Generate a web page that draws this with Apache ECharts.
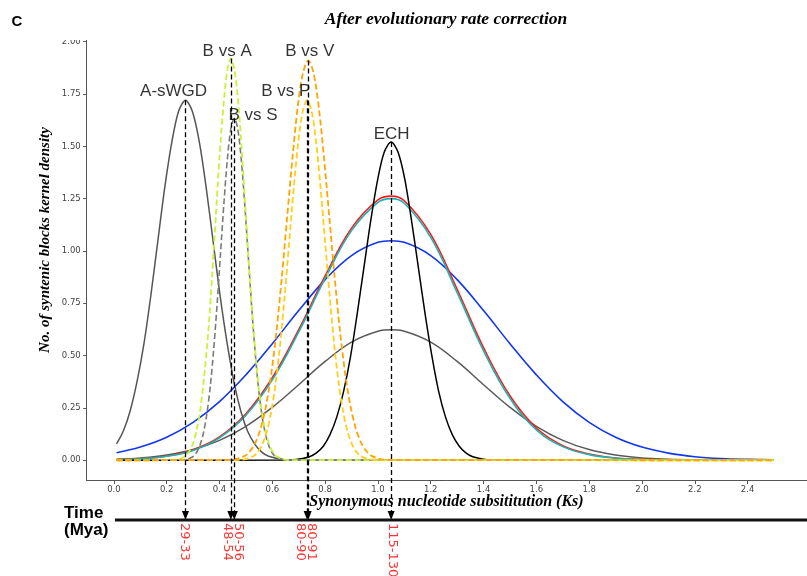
<!DOCTYPE html>
<html><head><meta charset="utf-8">
<script src="https://cdn.jsdelivr.net/npm/echarts@6/dist/echarts.min.js"></script>
<style>html,body{margin:0;padding:0;background:#fff}#chart{width:807px;height:576px}</style>
</head><body><div id="chart"></div>
<script>
// ---------- data ----------
const ksTicks = [0, 0.2, 0.4, 0.6, 0.8, 1.0, 1.2, 1.4, 1.6, 1.8, 2.0, 2.2, 2.4];
const densityTicks = [0, 0.25, 0.5, 0.75, 1.0, 1.25, 1.5, 1.75, 2.0];

const aSWGD = [[0.01,0.078],[0.035,0.137],[0.061,0.233],[0.087,0.372],[0.114,0.558],[0.14,0.788],[0.166,1.043],[0.192,1.298],[0.219,1.518],[0.245,1.667],[0.271,1.72],[0.297,1.667],[0.324,1.518],[0.35,1.298],[0.376,1.043],[0.402,0.788],[0.429,0.558],[0.455,0.372],[0.481,0.233],[0.507,0.137],[0.534,0.076],[0.56,0.039],[0.586,0.019],[0.639,0.004],[0.691,0.001],[0.8,0],[2.5,0]];
const bVsA = [[0.01,0],[0.215,0.001],[0.244,0.004],[0.272,0.021],[0.286,0.044],[0.301,0.084],[0.315,0.153],[0.329,0.26],[0.343,0.415],[0.358,0.623],[0.372,0.879],[0.386,1.165],[0.4,1.449],[0.415,1.694],[0.429,1.861],[0.443,1.92],[0.457,1.861],[0.472,1.694],[0.486,1.449],[0.5,1.165],[0.514,0.879],[0.529,0.623],[0.543,0.415],[0.557,0.26],[0.571,0.153],[0.586,0.084],[0.6,0.044],[0.614,0.021],[0.643,0.004],[0.671,0.001],[2.5,0]];
const bVsS = [[0.01,0],[0.248,0.001],[0.274,0.004],[0.3,0.018],[0.313,0.037],[0.326,0.072],[0.339,0.13],[0.352,0.221],[0.365,0.353],[0.378,0.531],[0.391,0.748],[0.404,0.991],[0.417,1.233],[0.43,1.442],[0.443,1.584],[0.456,1.634],[0.469,1.584],[0.482,1.442],[0.495,1.233],[0.508,0.991],[0.521,0.748],[0.534,0.531],[0.547,0.353],[0.56,0.221],[0.573,0.13],[0.586,0.072],[0.599,0.037],[0.612,0.018],[0.638,0.004],[0.664,0.001],[2.5,0]];
const bVsV = [[0.01,0],[0.416,0.001],[0.456,0.004],[0.496,0.021],[0.516,0.044],[0.536,0.084],[0.556,0.152],[0.576,0.259],[0.596,0.413],[0.616,0.62],[0.636,0.875],[0.656,1.159],[0.676,1.442],[0.696,1.686],[0.716,1.851],[0.736,1.91],[0.756,1.851],[0.776,1.686],[0.796,1.442],[0.816,1.159],[0.836,0.875],[0.856,0.62],[0.876,0.413],[0.896,0.259],[0.916,0.152],[0.936,0.084],[0.956,0.044],[0.976,0.021],[1.016,0.004],[1.056,0.001],[2.5,0]];
const bVsP = [[0.01,0],[0.46,0.001],[0.494,0.004],[0.528,0.019],[0.545,0.039],[0.562,0.076],[0.579,0.137],[0.596,0.233],[0.613,0.372],[0.63,0.558],[0.647,0.788],[0.664,1.043],[0.681,1.298],[0.698,1.518],[0.715,1.667],[0.732,1.72],[0.749,1.667],[0.766,1.518],[0.783,1.298],[0.8,1.043],[0.817,0.788],[0.834,0.558],[0.851,0.372],[0.868,0.233],[0.885,0.137],[0.902,0.076],[0.919,0.039],[0.936,0.019],[0.97,0.004],[1.004,0.001],[2.5,0]];
const ech = [[0.01,0],[0.638,0.001],[0.69,0.003],[0.741,0.017],[0.767,0.035],[0.793,0.067],[0.818,0.121],[0.844,0.206],[0.87,0.329],[0.896,0.494],[0.921,0.696],[0.947,0.922],[0.973,1.147],[0.999,1.341],[1.024,1.473],[1.05,1.52],[1.076,1.473],[1.102,1.341],[1.127,1.147],[1.153,0.922],[1.179,0.696],[1.205,0.494],[1.23,0.329],[1.256,0.206],[1.282,0.121],[1.308,0.067],[1.333,0.035],[1.359,0.017],[1.411,0.003],[1.462,0.001],[2.5,0]];
const redCurve = [[0.01,0.003],[0.1,0.007],[0.2,0.02],[0.3,0.05],[0.4,0.111],[0.5,0.222],[0.6,0.394],[0.7,0.624],[0.8,0.881],[0.9,1.109],[1.0,1.244],[1.05,1.262],[1.1,1.24],[1.2,1.079],[1.3,0.817],[1.4,0.538],[1.5,0.308],[1.6,0.154],[1.7,0.07],[1.8,0.03],[1.9,0.011],[2.0,0.004],[2.1,0.001],[2.2,0],[2.5,0]];
const cyanCurve = [[0.01,0.002],[0.1,0.007],[0.2,0.019],[0.3,0.047],[0.4,0.107],[0.5,0.215],[0.6,0.384],[0.7,0.613],[0.8,0.869],[0.9,1.097],[1.0,1.232],[1.05,1.25],[1.1,1.228],[1.2,1.065],[1.3,0.801],[1.4,0.523],[1.5,0.296],[1.6,0.145],[1.7,0.065],[1.8,0.027],[1.9,0.01],[2.0,0.003],[2.1,0.001],[2.2,0],[2.5,0]];
const grayBroad = [[0.01,0.005],[0.1,0.011],[0.2,0.025],[0.3,0.051],[0.4,0.095],[0.5,0.162],[0.6,0.253],[0.7,0.361],[0.8,0.472],[0.9,0.564],[1.0,0.616],[1.05,0.623],[1.1,0.616],[1.2,0.564],[1.3,0.472],[1.4,0.361],[1.5,0.253],[1.6,0.162],[1.7,0.095],[1.8,0.051],[1.9,0.025],[2.0,0.011],[2.1,0.005],[2.2,0.002],[2.3,0.001],[2.5,0]];
const blueCurve = [[0.01,0.036],[0.1,0.063],[0.2,0.11],[0.3,0.181],[0.4,0.28],[0.5,0.408],[0.6,0.557],[0.7,0.715],[0.8,0.863],[0.9,0.978],[1.0,1.041],[1.05,1.049],[1.1,1.041],[1.2,0.978],[1.3,0.863],[1.4,0.715],[1.5,0.557],[1.6,0.408],[1.7,0.28],[1.8,0.181],[1.9,0.11],[2.0,0.063],[2.1,0.034],[2.2,0.017],[2.3,0.008],[2.4,0.004],[2.5,0.002]];

const eventKs = [0.271, 0.443, 0.456, 0.732, 0.736, 1.05];
const eventPeak = [1.72, 1.92, 1.634, 1.72, 1.91, 1.52];
const eventLabels = ['A-sWGD', 'B vs A', 'B vs S', 'B vs P', 'B vs V', 'ECH'];
const eventLabelKs = [0.226, 0.429, 0.527, 0.651, 0.742, 1.052];
const eventLabelDensity = [1.764, 1.956, 1.649, 1.764, 1.956, 1.559];
const timeLabels = ['29-33', '48-54', '50-56', '80-90', '80-91', '115-130'];
const timeLabelKs = [0.267, 0.429, 0.471, 0.708, 0.749, 1.054];

// ---------- layout ----------
const PX_X = 265.6, PX_Y = 209.3;
const X_MIN = -0.103, X_MAX = 2.625;
const Y_MIN = -0.097, Y_MAX = 2.016, Y2_MIN = -0.553;
const GRID_LEFT = 86.7, GRID_TOP = 38.3;
const gridW = (X_MAX - X_MIN) * PX_X;
const h0 = (Y_MAX - Y_MIN) * PX_Y;
const h1 = (Y_MAX - Y2_MIN) * PX_Y;
const TIME_Y = -0.285, ARROW_Y = -0.264, TIME_LABEL_Y = -0.3;

const chart = echarts.init(document.getElementById('chart'), null, {renderer: 'canvas'});

function curve(name, data, color, width, dashed, smooth) {
  return {
    type: 'line', name, data, xAxisIndex: 0, yAxisIndex: 0,
    smooth: smooth, symbol: 'none', silent: true, z: 2,
    lineStyle: {color, width, type: dashed ? [6, 3] : 'solid'}
  };
}

const option = {
  animation: false,
  backgroundColor: '#fff',
  grid: [
    {left: GRID_LEFT, top: GRID_TOP, width: gridW, height: h0},
    {left: GRID_LEFT, top: GRID_TOP, width: gridW, height: h1}
  ],
  xAxis: [
    {gridIndex: 0, type: 'value', min: X_MIN, max: X_MAX,
     axisLine: {show: true, onZero: false, lineStyle: {color: '#555', width: 1}},
     axisTick: {show: true, length: 3.5, customValues: ksTicks, lineStyle: {color: '#555'}},
     axisLabel: {customValues: ksTicks, formatter: v => v.toFixed(1), fontSize: 8.5, color: '#444', margin: 5, fontFamily: 'DejaVu Sans'},
     splitLine: {show: false}},
    {gridIndex: 1, type: 'value', min: X_MIN, max: X_MAX, show: false}
  ],
  yAxis: [
    {gridIndex: 0, type: 'value', min: Y_MIN, max: Y_MAX,
     axisLine: {show: true, onZero: false, lineStyle: {color: '#555', width: 1}},
     axisTick: {show: true, length: 3.5, customValues: densityTicks, lineStyle: {color: '#555'}},
     axisLabel: {customValues: densityTicks, formatter: v => v.toFixed(2), fontSize: 8.5, color: '#444', margin: 6, fontFamily: 'DejaVu Sans'},
     splitLine: {show: false}},
    {gridIndex: 1, type: 'value', min: Y2_MIN, max: Y_MAX, show: false}
  ],
  series: [
    curve('gray', grayBroad, '#5a5a5a', 1.5, false, 0.4),
    curve('blue', blueCurve, '#1236f0', 1.6, false, 0.4),
    curve('red', redCurve, '#ff1a1a', 1.6, false, 0.4),
    curve('cyan', cyanCurve, '#1ab3b3', 1.6, false, 0.4),
    curve('ECH', ech, '#000000', 1.5, false, 0.3),
    curve('A-sWGD', aSWGD, '#555555', 1.5, false, 0.3),
    curve('B vs S', bVsS, '#7a7a7a', 1.6, true, 0.3),
    curve('B vs A', bVsA, '#c8f23a', 1.8, true, 0.3),
    curve('B vs P', bVsP, '#ffcf1a', 1.8, true, 0.3),
    curve('B vs V', bVsV, '#ffa500', 1.8, true, 0.3),
    {
      type: 'scatter', xAxisIndex: 0, yAxisIndex: 0, symbolSize: 1, silent: true, z: 5,
      itemStyle: {color: 'rgba(0,0,0,0)'},
      data: eventLabels.map((t, i) => ({name: t, value: [eventLabelKs[i], eventLabelDensity[i]]})),
      label: {show: true, position: 'inside', formatter: '{b}', fontSize: 17, color: '#000', fontFamily: 'Liberation Sans'}
    },
    {
      type: 'line', xAxisIndex: 1, yAxisIndex: 1, symbol: 'none', silent: true, z: 6,
      data: [[0.004, TIME_Y], [X_MAX + 0.05, TIME_Y]],
      lineStyle: {color: '#111', width: 3},
      markLine: {
        silent: true, animation: false, symbol: ['none', 'triangle'], symbolSize: [7, 9],
        label: {show: false},
        lineStyle: {color: '#000', type: [5, 3], width: 1.3},
        data: eventKs.map((k, i) => [{coord: [k, eventPeak[i]]}, {coord: [k, ARROW_Y]}])
      }
    },
    {
      type: 'scatter', xAxisIndex: 1, yAxisIndex: 1, symbolSize: 1, silent: true, z: 7,
      itemStyle: {color: 'rgba(0,0,0,0)'},
      data: timeLabels.map((t, i) => ({name: t, value: [timeLabelKs[i], TIME_LABEL_Y]})),
      label: {show: true, position: 'inside', rotate: -90, align: 'left', verticalAlign: 'middle',
              formatter: '{b}', fontSize: 13, color: '#ff0000', fontFamily: 'DejaVu Sans'}
    }
  ],
  graphic: [
    {type: 'rect', shape: {x: 0, y: 0, width: 807, height: 40}, style: {fill: '#fff'}, z: 100},
    {type: 'text', x: 11.5, y: 21.5, z: 101,
     style: {text: 'C', align: 'left', verticalAlign: 'middle', font: 'bold 15px "Liberation Sans"', fill: '#000'}},
    {type: 'text', x: 446, y: 19.5, z: 101,
     style: {text: 'After evolutionary rate correction', align: 'center', verticalAlign: 'middle', font: 'italic bold 17.5px "Liberation Serif"', fill: '#000'}},
    {type: 'text', x: 446.5, y: 501.5, z: 101,
     style: {text: 'Synonymous nucleotide subsititution (Ks)', align: 'center', verticalAlign: 'middle', font: 'italic bold 16px "Liberation Serif"', fill: '#000'}},
    {type: 'text', x: 45, y: 240, rotation: Math.PI / 2, z: 101,
     style: {text: 'No. of syntenic blocks kernel density', align: 'center', verticalAlign: 'middle', font: 'italic bold 15px "Liberation Serif"', fill: '#000'}},
    {type: 'text', x: 64, y: 505, z: 101,
     style: {text: 'Time\n(Mya)', align: 'left', verticalAlign: 'top', font: 'bold 17px "Liberation Sans"', lineHeight: 17, fill: '#000'}}
  ]
};
chart.setOption(option);
</script></body></html>
